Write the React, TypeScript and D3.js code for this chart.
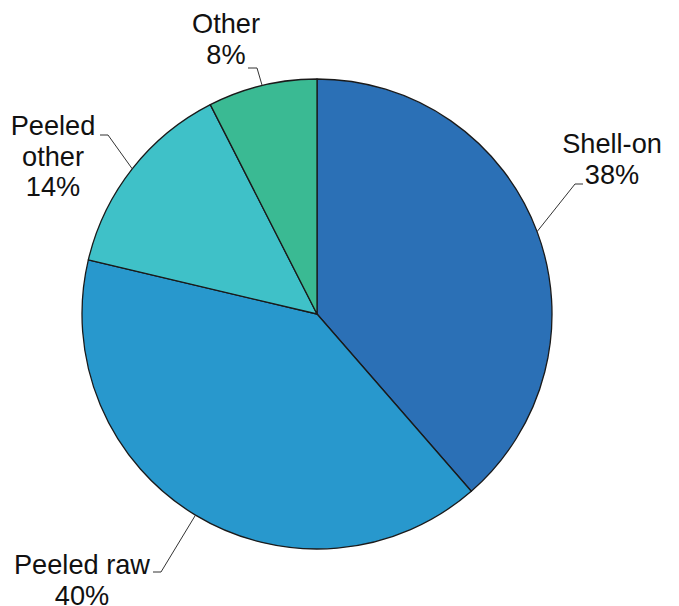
import React from "react";
import * as d3 from "d3";

const categories = ["Shell-on", "Peeled raw", "Peeled other", "Other"];
const values = [38.6, 40.1, 13.8, 7.5];
const pctLabels = ["38%", "40%", "14%", "8%"];
const colors = ["#2b70b6", "#2898cd", "#3fc1c8", "#3aba93"];

// label layout: text lines, text center x, first baseline y, elbow point, horizontal end x
const labelLayout = [
  { lines: ["Shell-on"], cx: 612, y: 153, ex: 575, ey: 184, hx: 583 },
  { lines: ["Peeled raw"], cx: 82, y: 574, ex: 161, ey: 572, hx: 153 },
  { lines: ["Peeled", "other"], cx: 53, y: 135, ex: 108, ey: 135, hx: 100 },
  { lines: ["Other"], cx: 226, y: 33, ex: 257, ey: 68, hx: 248 },
];

export default function App() {
  const W = 679, H = 606;
  const cx = 317, cy = 314, r = 235;
  const data = categories.map((c, i) => ({ c, v: values[i], i }));
  const pie = d3.pie<any>().value((d) => d.v).sort(null);
  const arcs = pie(data);
  const arc = d3.arc<any>().innerRadius(0).outerRadius(r);
  const lineH = 30.5;
  return (
    <svg width={W} height={H} style={{ position: "absolute", left: 0, top: 0 }}>
      <rect width={W} height={H} fill="#fff" />
      <g transform={`translate(${cx},${cy})`}>
        {arcs.map((a, i) => (
          <path key={i} d={arc(a) || ""} fill={colors[i]} stroke="#1a1a1a" strokeWidth={1.3} strokeLinejoin="round" />
        ))}
      </g>
      {arcs.map((a, i) => {
        const L = labelLayout[i];
        const mid = (a.startAngle + a.endAngle) / 2;
        const px = cx + r * Math.sin(mid);
        const py = cy - r * Math.cos(mid);
        const lines = [...L.lines, pctLabels[i]];
        return (
          <g key={i}>
            <polyline
              points={`${px},${py} ${L.ex},${L.ey} ${L.hx},${L.ey}`}
              fill="none"
              stroke="#333"
              strokeWidth={1}
            />
            <text
              textAnchor="middle"
              fontFamily="Liberation Sans, Arial, sans-serif"
              fontSize={27.2}
              fill="#111"
            >
              {lines.map((t, j) => (
                <tspan key={j} x={L.cx} y={L.y + j * lineH}>
                  {t}
                </tspan>
              ))}
            </text>
          </g>
        );
      })}
    </svg>
  );
}
